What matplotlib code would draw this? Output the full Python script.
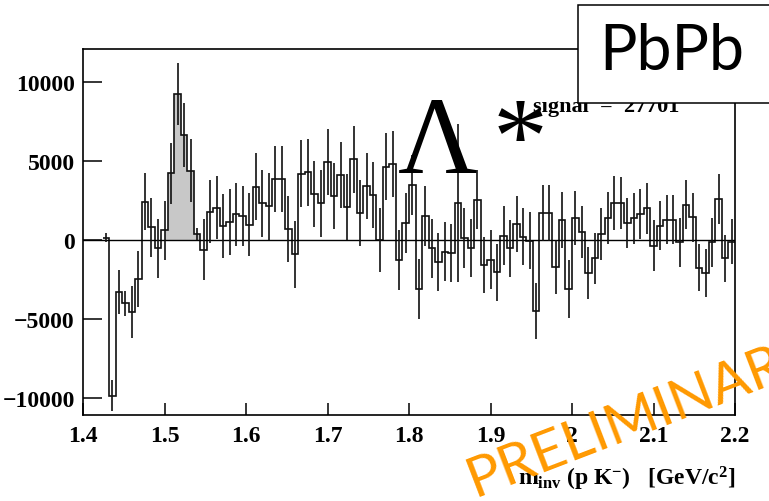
import matplotlib
matplotlib.use("Agg")
import matplotlib.pyplot as plt
from matplotlib.patches import Rectangle
import numpy as np

plt.rcParams['font.family'] = ['Liberation Serif', 'DejaVu Serif']
plt.rcParams['mathtext.fontset'] = 'custom'
plt.rcParams['mathtext.rm'] = 'Liberation Serif:bold'
plt.rcParams['mathtext.it'] = 'Liberation Serif:bold:italic'
plt.rcParams['mathtext.bf'] = 'Liberation Serif:bold'

# invariant mass histogram p K-, background subtracted
bin_lo = 1.424
bin_w = 0.008
counts = [150, -9850, -3300, -4000, -4580, -2470, 2430, 800, -530, 610,
          4220, 9240, 6650, 4390, 380, -610, 1800, 2050, 880, 1150,
          1620, 1500, 970, 3380, 2320, 2130, 3840, 3840, 700, -910,
          4200, 4280, 2900, 2320, 4950, 2800, 4120, 2100, 5100, 1700,
          3400, 2850, 0, 4650, 4830, -1270, 1080, 3480, -3120, 1540,
          -530, -1410, -740, -820, 2340, 100, -500, 2550, -1580, -1250,
          -2050, 270, -530, 1010, 210, -40, -4500, 1710, 1710, -1690,
          1270, -3100, 1370, 490, -2110, -1160, 380, 1370, 2320, 2320,
          1080, 1370, 1650, 2000, -360, 900, 1290, 1290, -150, 2240,
          1430, -1750, -2100, -150, 2600, -1160, -100]
errors = [300, 1000, 1400, 800, 1650, 1750, 1800, 1850, 1850, 1870,
          1950, 1980, 2000, 2000, 400, 1950, 2000, 2000, 2000, 2100,
          2000, 1900, 2000, 2100, 2100, 2100, 2100, 2100, 2100, 2100,
          2100, 2100, 2100, 2100, 2100, 2100, 2100, 2100, 2100, 2100,
          2100, 2100, 2000, 2100, 2100, 1900, 1900, 1900, 1900, 1900,
          1850, 1850, 1850, 1850, 5000, 1900, 1850, 1850, 1800, 1850,
          1800, 1850, 1800, 1800, 1800, 1800, 1800, 1800, 1750, 1700,
          1750, 1850, 1700, 1650, 1650, 1600, 1650, 1650, 1700, 1650,
          1600, 1600, 1600, 1600, 1600, 1550, 1550, 1550, 1550, 1550,
          1550, 1500, 1500, 1550, 1600, 1500, 1400]
sig_lo, sig_hi = 1.5, 1.544

counts = np.array(counts, dtype=float)
errors = np.array(errors, dtype=float)
edges = bin_lo + bin_w * np.arange(len(counts) + 1)
centers = 0.5 * (edges[:-1] + edges[1:])

W, H = 769, 502
fig = plt.figure(figsize=(W / 100, H / 100), dpi=100)
ax = fig.add_axes([83 / W, 1 - 416 / H, 652 / W, 366 / H])

def fx(px):
    return px / W

def fy(py):
    return 1 - py / H

# shaded signal region
m = (edges[:-1] >= sig_lo - bin_w) & (edges[:-1] < sig_hi)
xs = np.clip(edges[:-1][m], sig_lo, None)
xs = np.append(xs, sig_hi)
ys = np.append(counts[m], counts[m][-1])
ax.fill_between(xs, ys, 0, step='post', color='#c8c8c8', lw=0)

ax.axhline(0, color='k', lw=1.0)
ax.stairs(counts, edges, baseline=None, color='#111111', lw=1.2)
ax.errorbar(centers, counts, yerr=errors, fmt='none', ecolor='#111111',
            elinewidth=1.2, capsize=0)

ax.set_xlim(1.4, 2.2)
ax.set_ylim(-11080, 12090)
ax.set_xticks(np.round(np.arange(1.4, 2.21, 0.1), 1))
ax.set_xticklabels(['1.4', '1.5', '1.6', '1.7', '1.8', '1.9', '2', '2.1', '2.2'])
ax.set_yticks([-10000, -5000, 0, 5000, 10000])
ax.tick_params(axis='both', direction='in', width=1.1, labelsize=17,
               top=False, right=False)
ax.tick_params(axis='y', length=13.5, pad=6)
ax.tick_params(axis='x', length=9, pad=7)
for lab in ax.get_xticklabels() + ax.get_yticklabels():
    lab.set_fontweight('bold')
for s in ax.spines.values():
    s.set_linewidth(1.2)

fig.text(fx(735), fy(486), r'm$_{\mathrm{inv}}$ (p K$^{-}$)   [GeV/c$^{2}$]',
         ha='right', va='baseline', fontsize=17, fontweight='bold')

# signal text, top half hidden under the title boxes
fig.text(fx(533), fy(112), 'signal  =  27701', ha='left', va='baseline',
         fontsize=16, fontweight='bold', zorder=3)
fig.add_artist(Rectangle((fx(525), fy(101)), fx(578) - fx(525), fy(60) - fy(101),
                         transform=fig.transFigure, facecolor='white',
                         edgecolor='none', zorder=3.5))

fig.text(fx(438), fy(173), '\u039b', ha='center', va='baseline',
         fontsize=79, zorder=4)
fig.text(fx(520), fy(173), '*', ha='center', va='baseline',
         fontsize=79, zorder=4)

box = Rectangle((fx(578), fy(104)), 1.1 - fx(578), fy(6) - fy(104),
                transform=fig.transFigure, facecolor='white',
                edgecolor='k', lw=1.1, zorder=10, clip_on=False)
fig.add_artist(box)
fig.text(fx(672), fy(70), 'PbPb', ha='center', va='baseline',
         fontsize=45, family=['Lato', 'DejaVu Sans'], zorder=11)

fig.text(fx(475), fy(497), 'PRELIMINARY', ha='left', va='baseline',
         rotation=21, rotation_mode='anchor', fontsize=41,
         color='#ff9900', family=['Lato', 'DejaVu Sans'], zorder=12)

fig.savefig('out.png', dpi=100)
